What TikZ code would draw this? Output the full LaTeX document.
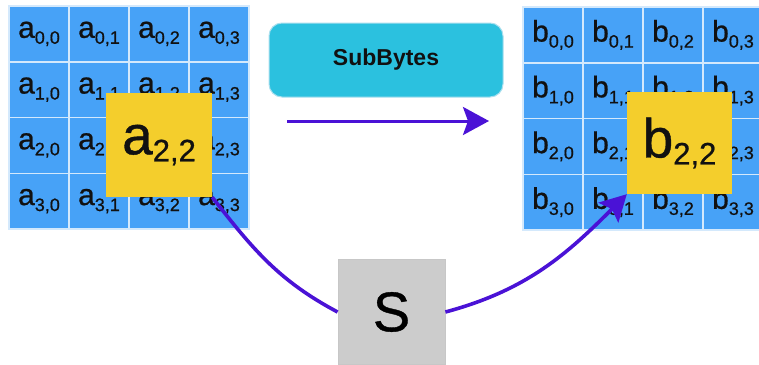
\documentclass[tikz,border=0pt]{standalone}
\usepackage{fontspec}
\setmainfont{Liberation Sans}
\newfontfamily\lblfont[FakeBold=0.7]{Liberation Sans}
\usetikzlibrary{arrows.meta}
\definecolor{cellblue}{HTML}{47A2F7}
\definecolor{cellline}{HTML}{D4E9FC}
\definecolor{hiyellow}{HTML}{F4CE2C}
\definecolor{subcyan}{HTML}{2BC1DF}
\definecolor{subedge}{HTML}{A9DFEE}
\definecolor{arrowpurple}{HTML}{4A12D6}
\definecolor{sgray}{HTML}{CCCCCC}
\definecolor{txt}{HTML}{111111}
\newcommand\smlbl[2]{#1\raisebox{-6pt}{\fontsize{18}{18}\selectfont #2}}
\newcommand\bglbl[2]{#1\raisebox{-7pt}{\fontsize{31}{31}\selectfont #2}}
\tikzset{
  cell/.style={draw=cellline, line width=1.5pt, fill=cellblue, minimum width=60pt, minimum height=55.75pt, inner sep=0pt, text=txt, font=\lblfont\fontsize{30}{30}\selectfont},
  hibox/.style={fill=hiyellow, inner sep=0pt, text=txt, font=\lblfont\fontsize{55}{55}\selectfont},
  opbox/.style={fill=subcyan, draw=subedge, line width=1pt, rounded corners=13pt, minimum width=234pt, minimum height=74pt, text=txt, font=\fontsize{23}{23}\selectfont\bfseries},
  sbox/.style={fill=sgray, draw=black!22, line width=0.8pt, minimum width=107pt, minimum height=105pt, text=black, font=\lblfont\fontsize{56}{56}\selectfont},
  curve/.style={draw=arrowpurple, line width=3.6pt},
  flow/.style={curve, -{Stealth[length=26pt, width=28pt, inset=5pt]}},
}
\begin{document}
\begin{tikzpicture}[x=1pt, y=-1pt]
\useasboundingbox (0,0) rectangle (759,364);
\fill[white] (0,0) rectangle (759,364);
% left grid
\foreach \r in {0,1,2,3}{
  \foreach \c in {0,1,2,3}{
    \node[cell] (a\r\c) at ({39+60*\c}, {33.875+55.75*\r}) {\smlbl{a}{\r,\c}};
  }
}
% right grid
\foreach \r in {0,1,2,3}{
  \foreach \c in {0,1,2,3}{
    \node[cell] (b\r\c) at ({553+60*\c}, {34.875+55.75*\r}) {\smlbl{b}{\r,\c}};
  }
}
\node[hibox, minimum width=106pt, minimum height=104pt] (ay) at (159,145) {\bglbl{a}{2,2}};
\node[hibox, minimum width=105pt, minimum height=102pt] (by) at (679.5,143) {\bglbl{b}{2,2}};
\node[opbox] (sb) at (386,60) {SubBytes};
\coordinate (arrs) at (287,121);
\coordinate (arre) at (489,121);
\draw[flow, line width=3pt] (arrs) -- (arre);
\node[sbox] (s) at (391.5,312) {S};
\draw[curve] (ay.south east) to[out=-52, in=152] (s.west);
\draw[flow] (s.east) to[out=15, in=-135] (by.south west);
\end{tikzpicture}
\end{document}
